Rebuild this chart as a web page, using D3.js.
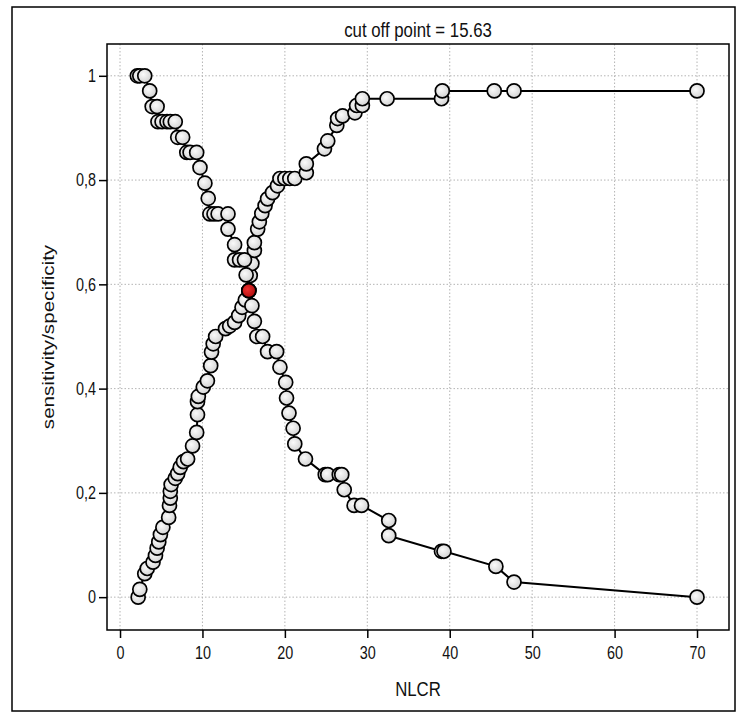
<!DOCTYPE html>
<html lang="en">
<head>
    <meta charset="UTF-8">
    <title>cut off point</title>
    <script src="https://d3js.org/d3.v7.min.js"></script>
    <style>
        body { margin: 0; background: #fff; }
        svg text { font-family: "Liberation Sans", Arial, sans-serif; fill: #111; }
        .grid line { stroke: #b4b4b4; stroke-dasharray: 1.5,2; }
        path.curve { fill: none; stroke: #000; stroke-width: 2; }
        circle.pt { stroke: #000; stroke-width: 1.7; }
    </style>
</head>
<body>
<script>
    const width  = 742;
    const height = 718;

    // sensitivity (falling curve): cut-off values and sensitivity
    const sensX = [2.1, 2.4, 3.0, 3.6, 3.9, 4.5, 4.6, 5.1, 5.7, 6.1, 6.7, 7.0, 7.6, 8.1, 8.5, 9.3,
                   9.7, 10.3, 10.7, 10.9, 11.4, 11.9, 13.1, 13.1, 13.9, 13.9, 14.5, 15.1, 15.3, 15.63,
                   16.0, 16.3, 16.6, 17.3, 17.9, 19.0, 19.4, 20.1, 20.2, 20.5, 21.0, 21.2, 22.5,
                   24.9, 25.2, 26.6, 26.9, 27.2, 28.4, 29.3, 32.6, 32.6, 39.0, 39.3, 45.6, 47.8, 70.0];
    const sensY = [1, 1, 1, 0.971, 0.941, 0.941, 0.912, 0.912, 0.912, 0.912, 0.912, 0.882, 0.882, 0.853, 0.853, 0.853,
                   0.824, 0.794, 0.765, 0.735, 0.735, 0.735, 0.735, 0.706, 0.676, 0.647, 0.647, 0.647, 0.618, 0.588,
                   0.559, 0.529, 0.5, 0.5, 0.471, 0.471, 0.441, 0.412, 0.382, 0.353, 0.324, 0.294, 0.265,
                   0.235, 0.235, 0.235, 0.235, 0.206, 0.176, 0.176, 0.147, 0.118, 0.088, 0.088, 0.059, 0.029, 0];

    // specificity (rising curve)
    const specX = [2.2, 2.4, 3.0, 3.3, 4.0, 4.3, 4.5, 4.7, 4.9, 5.2, 5.9, 6.0, 6.1, 6.1, 6.2, 6.7, 7.0, 7.3,
                   7.7, 8.2, 8.8, 9.3, 9.4, 9.4, 9.5, 10.1, 10.6, 11.0, 11.1, 11.3, 11.6, 12.8, 13.3, 13.9,
                   14.4, 14.8, 15.2, 15.63, 15.8, 16.0, 16.3, 16.3, 16.7, 16.9, 17.2, 17.6, 17.9, 18.5, 19.1,
                   19.4, 20.0, 20.6, 21.2, 22.6, 22.6, 24.8, 25.2, 26.3, 26.4, 27.0, 28.5, 28.7, 29.4, 29.4,
                   32.4, 39.0, 39.1, 45.4, 47.8, 70.0];
    const specY = [0, 0.015, 0.045, 0.055, 0.067, 0.08, 0.094, 0.106, 0.12, 0.134, 0.153, 0.176, 0.19, 0.203, 0.216,
                   0.228, 0.237, 0.249, 0.26, 0.265, 0.29, 0.316, 0.35, 0.375, 0.385, 0.403, 0.415, 0.444, 0.47,
                   0.486, 0.5, 0.515, 0.52, 0.527, 0.54, 0.556, 0.57, 0.588, 0.617, 0.64, 0.665, 0.68, 0.706,
                   0.72, 0.736, 0.751, 0.764, 0.776, 0.789, 0.803, 0.803, 0.803, 0.803, 0.814, 0.831, 0.86,
                   0.875, 0.905, 0.918, 0.923, 0.929, 0.943, 0.943, 0.956, 0.956, 0.956, 0.971, 0.971, 0.971, 0.971];

    const cutOff = [15.63, 0.588];
    const xTicks = [0, 10, 20, 30, 40, 50, 60, 70];
    const yTicks = [0, 0.2, 0.4, 0.6, 0.8, 1];

    const box = {left: 107, right: 729, top: 44, bottom: 630};
    const sx = 0.8; // text in the picture is squeezed sideways

    const scaleX = d3.scaleLinear().domain([-1.58, 73.88]).range([box.left, box.right]);
    const scaleY = d3.scaleLinear().domain([-0.063, 1.061]).range([box.bottom, box.top]);

    const svg = d3.select("body").append("svg").attr("width", width).attr("height", height);

    const defs = svg.append("defs");
    const g1 = defs.append("radialGradient").attr("id", "ball").attr("cx", "40%").attr("cy", "40%").attr("r", "60%");
    g1.append("stop").attr("offset", "0%").attr("stop-color", "#fafafa");
    g1.append("stop").attr("offset", "100%").attr("stop-color", "#d4d4d4");
    const g2 = defs.append("radialGradient").attr("id", "redball").attr("cx", "40%").attr("cy", "40%").attr("r", "60%");
    g2.append("stop").attr("offset", "0%").attr("stop-color", "#f03030");
    g2.append("stop").attr("offset", "100%").attr("stop-color", "#b01010");

    // outer frame
    svg.append("rect").attr("x", 12).attr("y", 7).attr("width", 723).attr("height", 704)
       .attr("fill", "none").attr("stroke", "#000").attr("stroke-width", 1.5);

    // grid
    const grid = svg.append("g").attr("class", "grid");
    grid.selectAll("line.v").data(xTicks).enter().append("line")
        .attr("x1", d => scaleX(d)).attr("x2", d => scaleX(d))
        .attr("y1", box.top).attr("y2", box.bottom);
    grid.selectAll("line.h").data(yTicks).enter().append("line")
        .attr("y1", d => scaleY(d)).attr("y2", d => scaleY(d))
        .attr("x1", box.left).attr("x2", box.right);

    // plot box
    svg.append("rect").attr("x", box.left).attr("y", box.top)
       .attr("width", box.right - box.left).attr("height", box.bottom - box.top)
       .attr("fill", "none").attr("stroke", "#000").attr("stroke-width", 1.5);

    // axes
    const xAxis = d3.axisBottom(scaleX).tickValues(xTicks).tickSize(8).tickPadding(8).tickSizeOuter(0);
    const yAxis = d3.axisLeft(scaleY).tickValues(yTicks).tickSize(8).tickPadding(5).tickSizeOuter(0)
                    .tickFormat(d => String(d).replace(".", ","));
    const gx = svg.append("g").attr("transform", "translate(" + [0, box.bottom] + ")").call(xAxis);
    const gy = svg.append("g").attr("transform", "translate(" + [box.left, 0] + ")").call(yAxis);
    [gx, gy].forEach(g => {
        g.select(".domain").remove();
        g.selectAll(".tick line").attr("stroke", "#000").attr("stroke-width", 1.5);
        g.selectAll(".tick text").attr("font-size", 18).attr("font-family", "Liberation Sans, Arial, sans-serif")
         .attr("fill", "#111").attr("transform", "scale(" + sx + ",1)");
    });
    gy.selectAll(".tick text").attr("x", -11 / sx);

    // titles
    svg.append("text").attr("transform", "translate(" + [(box.left + box.right) / 2, 37] + ") scale(" + sx + ",1)")
       .attr("text-anchor", "middle").attr("font-size", 21).text("cut off point = 15.63");
    svg.append("text").attr("transform", "translate(" + [(box.left + box.right) / 2, 696] + ") scale(" + sx + ",1)")
       .attr("text-anchor", "middle").attr("font-size", 21).text("NLCR");
    svg.append("text").attr("transform", "translate(54," + ((box.top + box.bottom) / 2) + ") rotate(-90) scale(1.25,1)")
       .attr("text-anchor", "middle").attr("font-size", 16.5).text("sensitivity/specificity");

    const line = d3.line().x(d => scaleX(d[0])).y(d => scaleY(d[1]));
    const sens = d3.zip(sensX, sensY);
    const spec = d3.zip(specX, specY);

    [spec, sens].forEach(s => {
        svg.append("path").attr("class", "curve").attr("d", line(s));
        svg.append("g").selectAll("circle").data(s).enter().append("circle")
           .attr("class", "pt")
           .attr("cx", d => scaleX(d[0])).attr("cy", d => scaleY(d[1])).attr("r", 7)
           .attr("fill", "url(#ball)");
    });

    svg.append("circle").attr("class", "pt")
       .attr("cx", scaleX(cutOff[0])).attr("cy", scaleY(cutOff[1])).attr("r", 7)
       .attr("fill", "url(#redball)");
</script>
</body>
</html>
